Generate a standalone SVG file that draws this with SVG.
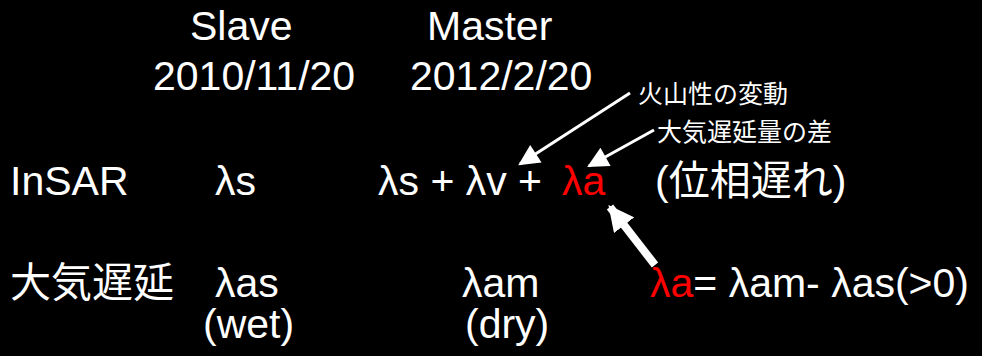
<svg xmlns="http://www.w3.org/2000/svg" width="982" height="356" viewBox="0 0 982 356">
<style>
text{font-family:"Liberation Sans","Noto Sans CJK JP",sans-serif;fill:#fff}
.big{font-size:41px}
.small{font-size:25px}
.red{fill:#f00}
.conn{stroke:#fff;fill:none}
</style>
<defs>
<marker id="ah" viewBox="0 0 10 10" refX="9" refY="5" markerWidth="8" markerHeight="7" markerUnits="strokeWidth" orient="auto">
<path d="M0,0 L10,5 L0,10 z" fill="#fff"/>
</marker>
<marker id="ahb" viewBox="0 0 10 10" refX="9" refY="5" markerWidth="3.2" markerHeight="3.2" markerUnits="strokeWidth" orient="auto">
<path d="M0,0 L10,5 L0,10 z" fill="#fff"/>
</marker>
</defs>
<rect width="982" height="356" fill="#000"/>
<g id="header">
<text class="big" x="190" y="40">Slave</text>
<text class="big" x="427" y="40">Master</text>
<text class="big" x="153" y="90">2010/11/20</text>
<text class="big" x="410" y="90">2012/2/20</text>
</g>
<g id="insar">
<text class="big" x="10" y="195">InSAR</text>
<text class="big" x="215" y="195">λs</text>
<text class="big" x="378" y="195">λs + λv + </text>
<text class="big red" x="562" y="195">λa</text>
<text class="big" x="655" y="195">(位相遅れ)</text>
</g>
<g id="atm">
<text class="big" x="10" y="297">大気遅延</text>
<text class="big" x="215" y="297">λas</text>
<text class="big" x="203" y="338">(wet)</text>
<text class="big" x="462" y="297">λam</text>
<text class="big" x="465" y="338">(dry)</text>
<text class="big" x="650" y="297"><tspan class="red">λa</tspan>= λam- λas(&gt;0)</text>
</g>
<g id="labels">
<text class="small" x="638" y="103">火山性の変動</text>
<text class="small" x="657" y="141">大気遅延量の差</text>
</g>
<g id="connectors">
<line class="conn" x1="630" y1="93" x2="520" y2="164" stroke-width="3" marker-end="url(#ah)"/>
<line class="conn" x1="654" y1="130" x2="589" y2="166" stroke-width="3" marker-end="url(#ah)"/>
<line class="conn" x1="655" y1="265" x2="610" y2="207" stroke-width="8" marker-end="url(#ahb)"/>
</g>
</svg>
